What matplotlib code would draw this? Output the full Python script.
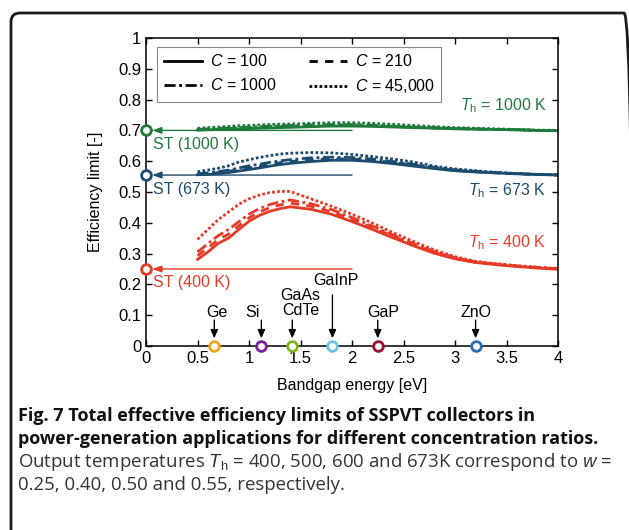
import matplotlib
matplotlib.use("Agg")
import matplotlib.pyplot as plt
from matplotlib.patches import FancyBboxPatch

plt.rcParams["font.family"] = ["Liberation Sans", "DejaVu Sans"]
plt.rcParams["mathtext.fontset"] = "custom"
plt.rcParams["mathtext.rm"] = "Liberation Sans"
plt.rcParams["mathtext.it"] = "Liberation Sans:italic"

# bandgap grid [eV]
energy = [0.5, 0.6, 0.7, 0.8, 0.9, 1.0, 1.1, 1.2, 1.3, 1.4, 1.6, 1.8,
          2.0, 2.2, 2.4, 2.6, 2.8, 3.0, 3.2, 3.4, 3.6, 3.8, 4.0]

# Th = 400 K
red_c100 = [0.281, 0.305, 0.333, 0.350, 0.378, 0.405, 0.424, 0.437, 0.446, 0.452, 0.444, 0.428,
            0.404, 0.378, 0.351, 0.325, 0.301, 0.283, 0.271, 0.264, 0.258, 0.253, 0.249]
red_c210 = [0.293, 0.318, 0.345, 0.363, 0.390, 0.416, 0.435, 0.449, 0.458, 0.464, 0.454, 0.436,
            0.411, 0.384, 0.356, 0.329, 0.304, 0.285, 0.272, 0.265, 0.259, 0.254, 0.250]
red_c1000 = [0.305, 0.332, 0.358, 0.378, 0.403, 0.428, 0.446, 0.459, 0.468, 0.474, 0.462, 0.443,
             0.417, 0.389, 0.360, 0.332, 0.307, 0.287, 0.273, 0.266, 0.260, 0.255, 0.251]
red_c45000 = [0.346, 0.378, 0.410, 0.435, 0.460, 0.478, 0.490, 0.498, 0.502, 0.502, 0.478, 0.454,
              0.428, 0.399, 0.368, 0.339, 0.312, 0.290, 0.275, 0.267, 0.261, 0.256, 0.252]

# Th = 673 K
blue_c100 = [0.556, 0.557, 0.560, 0.563, 0.568, 0.573, 0.578, 0.584, 0.589, 0.593, 0.599, 0.603,
             0.603, 0.599, 0.592, 0.584, 0.576, 0.569, 0.565, 0.562, 0.559, 0.557, 0.555]
blue_c210 = [0.557, 0.559, 0.563, 0.567, 0.573, 0.579, 0.584, 0.590, 0.595, 0.599, 0.605, 0.608,
             0.607, 0.603, 0.596, 0.587, 0.578, 0.570, 0.566, 0.562, 0.559, 0.557, 0.555]
blue_c1000 = [0.559, 0.562, 0.566, 0.571, 0.578, 0.585, 0.590, 0.596, 0.601, 0.605, 0.611, 0.613,
              0.612, 0.607, 0.599, 0.590, 0.580, 0.572, 0.567, 0.563, 0.560, 0.557, 0.556]
blue_c45000 = [0.566, 0.571, 0.577, 0.585, 0.597, 0.605, 0.612, 0.618, 0.623, 0.626, 0.628, 0.627,
               0.622, 0.615, 0.607, 0.597, 0.584, 0.575, 0.569, 0.564, 0.560, 0.557, 0.556]

# Th = 1000 K
green_c100 = [0.701, 0.702, 0.703, 0.704, 0.705, 0.706, 0.707, 0.708, 0.709, 0.710, 0.712, 0.714,
              0.714, 0.713, 0.711, 0.709, 0.707, 0.705, 0.704, 0.703, 0.702, 0.700, 0.699]
green_c210 = [0.702, 0.703, 0.704, 0.706, 0.707, 0.708, 0.709, 0.711, 0.712, 0.713, 0.715, 0.716,
              0.716, 0.715, 0.713, 0.710, 0.708, 0.706, 0.704, 0.703, 0.702, 0.700, 0.699]
green_c1000 = [0.703, 0.705, 0.706, 0.708, 0.709, 0.711, 0.712, 0.714, 0.715, 0.716, 0.718, 0.719,
               0.719, 0.717, 0.714, 0.711, 0.709, 0.706, 0.705, 0.703, 0.702, 0.700, 0.699]
green_c45000 = [0.707, 0.709, 0.711, 0.713, 0.715, 0.716, 0.718, 0.719, 0.720, 0.721, 0.723, 0.725,
                0.725, 0.723, 0.720, 0.716, 0.712, 0.709, 0.707, 0.705, 0.703, 0.701, 0.700]

conc_labels = ["100", "210", "1000", "45,000"]

# solar-thermal limits (w) and labels
st_values = [0.70, 0.555, 0.25]
st_labels = ["ST (1000 K)", "ST (673 K)", "ST (400 K)"]
th_labels = ["1000 K", "673 K", "400 K"]

# semiconductor bandgaps
materials = ["Ge", "Si", "GaAs\nCdTe", "GaInP", "GaP", "ZnO"]
gaps = [0.663, 1.12, 1.42, 1.81, 2.25, 3.20]

GREEN = "#1f7a3c"
BLUE = "#1b4b6e"
RED = "#e63a26"
mat_colors = ["#eea81c", "#7a1fa0", "#7db51d", "#6cc3e8", "#9e1030", "#2a6db0"]

styles = ["-", (0, (3.0, 2.6)), (0, (4, 1.3, 1, 1.3)), (0, (1.0, 0.8))]

fig = plt.figure(figsize=(6.29, 5.30), dpi=100)

# rounded frame around figure and caption (right/bottom run past the edge)
frame = FancyBboxPatch((11, -40), 622, 557, boxstyle="round,pad=0,rounding_size=9",
                       transform=None, fill=False, lw=2.0, ec="#1a1a1a")
fig.patches.append(frame)

ax = fig.add_axes([146 / 629, 1 - 346 / 530, 412 / 629, 308 / 530])

groups = [
    (GREEN, [green_c100, green_c210, green_c1000, green_c45000]),
    (BLUE, [blue_c100, blue_c210, blue_c1000, blue_c45000]),
    (RED, [red_c100, red_c210, red_c1000, red_c45000]),
]
for color, series in groups:
    for vals, ls in zip(series, styles):
        ax.plot(energy, vals, color=color, ls=ls, lw=2.0)

# solar-thermal reference arrows
st_colors = [GREEN, BLUE, RED]
st_text_y = [0.655, 0.508, 0.207]
for val, lab, col, ty in zip(st_values, st_labels, st_colors, st_text_y):
    ax.annotate("", xy=(0.06, val), xytext=(2.0, val),
                arrowprops=dict(arrowstyle="-|>,head_length=0.55,head_width=0.2",
                                color=col, lw=1.0, shrinkA=0, shrinkB=0))
    ax.plot([0], [val], "o", ms=7, mfc="white", mec=col, mew=2, clip_on=False, zorder=5)
    ax.text(0.07, ty, lab, color=col, fontsize=11.5, va="center", ha="left")

th_y = [0.780, 0.506, 0.334]
for lab, col, ty in zip(th_labels, st_colors, th_y):
    ax.text(3.89, ty, r"$T_\mathrm{h}$ = " + lab, color=col, fontsize=11.5,
            va="center", ha="right")

# material markers
text_x = [0.69, 1.035, 1.50, 1.845, 2.30, 3.20]
text_y = [0.108, 0.108, 0.138, 0.212, 0.108, 0.108]
arrow_top = [0.084, 0.084, 0.084, 0.166, 0.084, 0.084]
for name, g, col, tx, ty, at in zip(materials, gaps, mat_colors, text_x, text_y, arrow_top):
    ax.annotate("", xy=(g, 0.025), xytext=(g, at),
                arrowprops=dict(arrowstyle="-|>,head_length=0.5,head_width=0.22",
                                color="black", lw=1.0, shrinkA=0, shrinkB=0))
    ax.plot([g], [0], "o", ms=7, mfc="white", mec=col, mew=2, clip_on=False, zorder=5)
    ax.text(tx, ty, name, fontsize=11.5, ha="center", va="center", linespacing=1.0)

ax.set_xlim(0, 4)
ax.set_ylim(0, 1)
ax.set_xticks([0, 0.5, 1, 1.5, 2, 2.5, 3, 3.5, 4])
ax.set_xticklabels(["0", "0.5", "1", "1.5", "2", "2.5", "3", "3.5", "4"])
ax.set_yticks([i / 10 for i in range(11)])
ax.set_yticklabels(["0", "0.1", "0.2", "0.3", "0.4", "0.5", "0.6", "0.7", "0.8", "0.9", "1"])
ax.tick_params(direction="in", length=4, width=1.0, top=True, right=True, labelsize=12)
for sp in ax.spines.values():
    sp.set_linewidth(1.1)
ax.set_xlabel("Bandgap energy [eV]", fontsize=11.5, labelpad=9)
ax.set_ylabel("Efficiency limit [-]", fontsize=11.5, labelpad=11)

# legend (black handles)
handles = []
for ls in styles:
    (h,) = ax.plot([], [], color="black", ls=ls, lw=2.0)
    handles.append(h)
labels = [r"$C$ = " + c for c in conc_labels]
order = [0, 2, 1, 3]
leg = ax.legend([handles[i] for i in order], [labels[i] for i in order], ncol=2,
                loc="upper left", bbox_to_anchor=(0.027, 0.971), borderaxespad=0,
                fancybox=False, edgecolor="#888888", framealpha=1, fontsize=11.5,
                handlelength=2.4, columnspacing=2.0, handletextpad=0.5)
leg.get_frame().set_linewidth(0.8)

# caption
cap_font = ["Open Sans", "DejaVu Sans"]
fig.text(18 / 629, 1 - 416 / 530, "Fig. 7 Total effective efficiency limits of SSPVT collectors in",
         family=cap_font, fontweight="bold", fontsize=13.0, va="center", color="#111111")
fig.text(18 / 629, 1 - 439 / 530, "power-generation applications for different concentration ratios.",
         family=cap_font, fontweight="bold", fontsize=13.0, va="center", color="#111111")
fig.text(18 / 629, 1 - 462 / 530,
         r"Output temperatures $T_\mathrm{h}$ = 400, 500, 600 and 673K correspond to $w$ =",
         family=cap_font, fontsize=13.4, va="center", color="#333333")
fig.text(18 / 629, 1 - 485 / 530, "0.25, 0.40, 0.50 and 0.55, respectively.",
         family=cap_font, fontsize=13.4, va="center", color="#333333")

fig.savefig("out.png", dpi=100)
